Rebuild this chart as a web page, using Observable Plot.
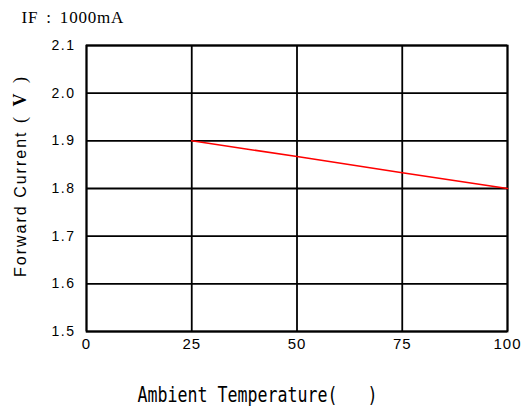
<!DOCTYPE html>
<html>
<head>
<meta charset="utf-8">
<script src="https://cdn.jsdelivr.net/npm/d3@7"></script>
<script src="https://cdn.jsdelivr.net/npm/@observablehq/plot@0.6"></script>
<style>
  html, body { margin: 0; padding: 0; background: #fff; }
  #chart svg { display: block; }
</style>
</head>
<body>
<div id="chart"></div>
<script>
// Data
const temperatures = [25, 50, 75, 100];
const forwardVoltage = [1.9, 1.867, 1.833, 1.8];
const xTicks = [0, 25, 50, 75, 100];
const yTicks = [1.5, 1.6, 1.7, 1.8, 1.9, 2.0, 2.1];
const noteText = "IF : 1000mA";
const xLabel = "Ambient Temperature(   )";
const yLabelMain = "Forward Current";
const yLabelUnit = "V";

const data = temperatures.map((t, i) => ({t, v: forwardVoltage[i]}));

const chart = Plot.plot({
  width: 529,
  height: 410,
  marginLeft: 86,
  marginRight: 22,
  marginTop: 45,
  marginBottom: 79,
  style: {background: "#fff", color: "#000"},
  x: {domain: [0, 100]},
  y: {domain: [1.5, 2.1]},
  marks: [
    Plot.gridX(xTicks, {stroke: "#000", strokeOpacity: 1, strokeWidth: 1.8}),
    Plot.gridY(yTicks, {stroke: "#000", strokeOpacity: 1, strokeWidth: 1.8}),
    Plot.frame({stroke: "#000", strokeWidth: 1.8}),
    Plot.line(data, {x: "t", y: "v", stroke: "#ff0000", strokeWidth: 1.6}),
    Plot.axisY({ticks: yTicks, tickSize: 0, tickPadding: 11, tickFormat: d3.format(".1f"),
      label: null, fontSize: 14, fontFamily: "Liberation Sans, Arial, sans-serif"}),
    Plot.axisX({ticks: xTicks, tickSize: 0, tickPadding: 7, tickFormat: d => String(d),
      label: null, fontSize: 15, fontFamily: "Liberation Sans, Arial, sans-serif"}),
    Plot.text([noteText], {frameAnchor: "top-left", text: d => d, dx: -65, dy: -28,
      textAnchor: "start", lineAnchor: "middle", fontSize: 17,
      fontFamily: "Liberation Serif, Times New Roman, serif"}),
    Plot.text([xLabel], {frameAnchor: "bottom-left", text: d => d, dx: 51, dy: 63,
      textAnchor: "start", lineAnchor: "middle", fontSize: 22,
      fontFamily: "DejaVu Sans Mono, monospace"}),
    Plot.text([yLabelMain], {frameAnchor: "left", text: d => d, dx: -66, dy: -13,
      rotate: -90, textAnchor: "middle", lineAnchor: "middle", fontSize: 16,
      fontFamily: "Liberation Sans, Arial, sans-serif"})
  ]
});

document.getElementById("chart").appendChild(chart);

// Post styling of text
const svg = d3.select(chart);
svg.selectAll("g[aria-label='y-axis tick label']").style("letter-spacing", "1.5px");
svg.selectAll("g[aria-label='x-axis tick label']").style("letter-spacing", "1px");
svg.selectAll("text").each(function() {
  const el = d3.select(this);
  const txt = this.textContent;
  if (txt === xLabel) {
    el.attr("textLength", 240).attr("lengthAdjust", "spacingAndGlyphs");
  } else if (txt === noteText) {
    el.style("word-spacing", "3px").style("letter-spacing", "0.8px");
  } else if (txt === yLabelMain) {
    el.text(null);
    el.append("tspan").text(yLabelMain).style("letter-spacing", "2px");
    el.append("tspan").text(" ( ")
      .attr("font-family", "Liberation Serif, serif")
      .attr("font-size", 18).style("letter-spacing", "3px");
    el.append("tspan").text(yLabelUnit)
      .attr("font-family", "Liberation Serif, serif").attr("font-weight", "bold")
      .attr("font-size", 18).style("letter-spacing", "3px");
    el.append("tspan").text(" )")
      .attr("font-family", "Liberation Serif, serif")
      .attr("font-size", 18).style("letter-spacing", "3px");
  }
});
</script>
</body>
</html>
